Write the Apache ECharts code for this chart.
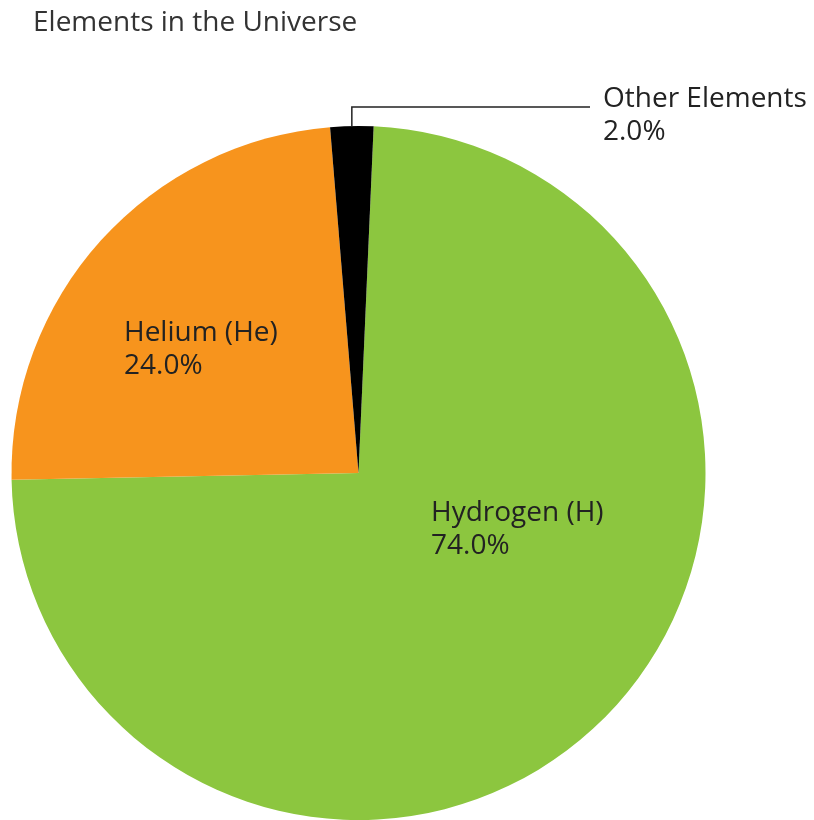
<!DOCTYPE html>
<html>
<head>
<meta charset="utf-8">
<script src="https://cdn.jsdelivr.net/npm/echarts@6/dist/echarts.min.js"></script>
<style>
  html, body { margin: 0; padding: 0; background: #ffffff; }
  #chart { width: 814px; height: 820px; }
</style>
</head>
<body>
<div id="chart"></div>
<script>
// Composition of the universe by mass
const elementNames = ['Hydrogen (H)', 'Helium (He)', 'Other Elements'];
const elementShares = [74.0, 24.0, 2.0];
const sliceColors = ['#8cc63f', '#f7941d', '#000000'];

const FONT = '"Open Sans", Lato, sans-serif';

// Where each slice's caption sits (top-left of its text block)
const labelSpots = [
  { x: 431, y: 497 },
  { x: 124, y: 317 },
  { x: 603, y: 83 }
];

const chart = echarts.init(document.getElementById('chart'), null, { renderer: 'canvas' });

const data = elementNames.map((name, i) => ({
  name: name,
  value: elementShares[i],
  itemStyle: { color: sliceColors[i] },
  label: i === 2
    ? { position: 'outside', show: true }
    : { position: 'inside', show: true },
  labelLine: { show: i === 2 }
}));

chart.setOption({
  animation: false,
  title: {
    text: 'Elements in the Universe',
    left: 28,
    top: 4,
    textStyle: {
      fontFamily: FONT,
      fontSize: 28,
      fontWeight: 'normal',
      color: '#333333'
    }
  },
  series: [{
    type: 'pie',
    center: [358.5, 473],
    radius: 347,
    startAngle: 87.5,
    clockwise: true,
    avoidLabelOverlap: false,
    itemStyle: { borderWidth: 0 },
    label: {
      fontFamily: FONT,
      fontSize: 28,
      lineHeight: 33,
      color: '#222222',
      formatter: p => p.name + '\n' + p.value.toFixed(1) + '%'
    },
    labelLine: {
      length: 20,
      length2: 40,
      lineStyle: { color: '#222222', width: 1.5 }
    },
    emphasis: { disabled: true },
    labelLayout: function (params) {
      const spot = labelSpots[params.dataIndex];
      const out = { x: spot.x, y: spot.y, align: 'left', verticalAlign: 'top' };
      if (params.dataIndex === 2 && params.labelLinePoints) {
        // Leader: straight up from the slice's rim, then across to the caption
        const a = params.labelLinePoints[0];
        const riseY = a[1] - 19;
        out.labelLinePoints = [
          [a[0], a[1]],
          [a[0], riseY],
          [spot.x - 13, riseY]
        ];
      }
      return out;
    },
    data: data
  }]
});
</script>
</body>
</html>
